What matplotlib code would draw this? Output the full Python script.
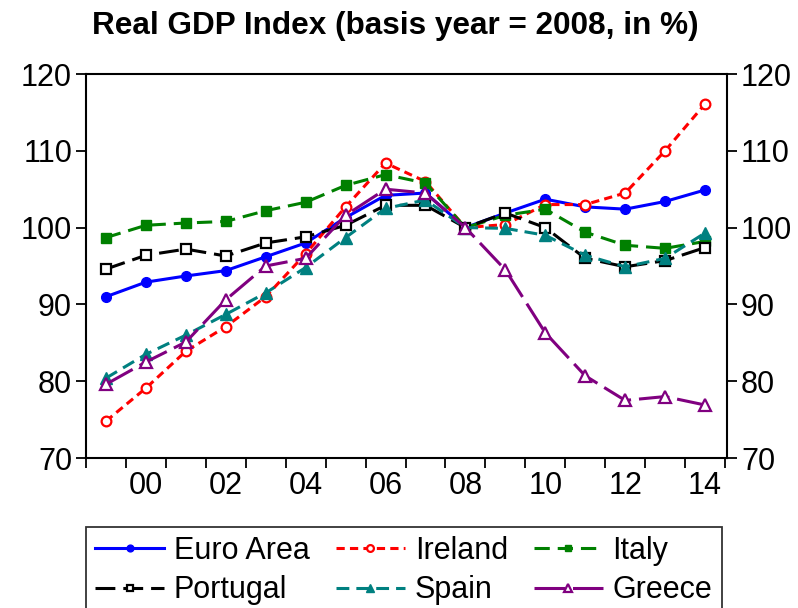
import numpy as np
import matplotlib
matplotlib.use('Agg')
import matplotlib.pyplot as plt
from matplotlib.ticker import FixedLocator, NullFormatter

plt.rcParams['font.family'] = ['Liberation Sans', 'DejaVu Sans']

years = list(range(1999, 2015))
euro_area = [91.0, 92.9, 93.7, 94.4, 96.2, 98.0, 101.3, 104.2, 104.5, 100.0, 101.9, 103.7, 102.7, 102.4, 103.4, 104.9]
ireland = [74.8, 79.1, 83.9, 87.1, 91.0, 96.6, 102.7, 108.4, 106.0, 100.0, 100.4, 103.0, 103.0, 104.5, 110.0, 116.1]
italy = [98.7, 100.3, 100.6, 100.8, 102.2, 103.3, 105.5, 106.9, 105.8, 100.0, 101.6, 102.4, 99.4, 97.7, 97.3, 98.2]
portugal = [94.6, 96.4, 97.2, 96.3, 98.0, 98.8, 100.3, 102.9, 102.9, 100.0, 101.9, 100.0, 96.0, 94.9, 95.7, 97.4]
spain = [80.4, 83.5, 86.0, 88.7, 91.5, 94.8, 98.7, 102.5, 103.6, 100.0, 99.9, 99.0, 96.4, 94.9, 96.0, 99.3]
greece = [79.6, 82.5, 85.1, 90.6, 95.0, 96.0, 101.6, 105.0, 104.5, 100.0, 94.5, 86.3, 80.7, 77.5, 78.0, 76.9]

year_labels = ['00', '02', '04', '06', '08', '10', '12', '14']
label_years = [2000, 2002, 2004, 2006, 2008, 2010, 2012, 2014]

fig = plt.figure(figsize=(7.98, 6.08), dpi=100)
ax = fig.add_axes([86/798, 1 - 458/608, (727 - 86)/798, (458 - 74)/608])

lw = 2.2
ms = 7
l_ea, = ax.plot(years, euro_area, color='blue', lw=lw, marker='o', ms=ms, label='Euro Area')
l_ie, = ax.plot(years, ireland, color='red', lw=lw, ls=(0, (2.7, 1.7)), marker='o', ms=ms,
                markerfacecolor='white', markeredgewidth=1.6, label='Ireland')
l_it, = ax.plot(years, italy, color='green', lw=lw, ls=(0, (5, 2.6)), marker='s', ms=ms, label='Italy')
l_pt, = ax.plot(years, portugal, color='black', lw=lw, ls=(0, (6.5, 2.6)), marker='s', ms=ms,
                markerfacecolor='white', markeredgewidth=1.6, label='Portugal')
l_es, = ax.plot(years, spain, color='teal', lw=lw, ls=(0, (4.2, 2.3)), marker='^', ms=ms + 1, label='Spain')
l_gr, = ax.plot(years, greece, color='purple', lw=lw, ls=(0, (10, 2.6)), marker='^', ms=ms + 1,
                markerfacecolor='white', markeredgewidth=1.6, label='Greece')

ax.set_xlim(1998.5, 2014.55)
ax.set_ylim(70, 120)
ax.set_yticks([70, 80, 90, 100, 110, 120])

# year ticks sit between points, labels centred on even years
ax.xaxis.set_major_locator(FixedLocator(label_years))
ax.set_xticklabels(year_labels)
ax.xaxis.set_minor_locator(FixedLocator([y + 0.5 for y in range(1998, 2015)]))
ax.xaxis.set_minor_formatter(NullFormatter())
ax.tick_params(axis='x', which='major', length=0, pad=9, labelsize=22)
ax.tick_params(axis='x', which='minor', direction='out', length=7, width=1.3)
ax.tick_params(axis='y', direction='out', length=7, width=1.3, labelsize=22,
               left=True, right=True, labelleft=True, labelright=True, pad=3)
for s in ax.spines.values():
    s.set_linewidth(1.5)

fig.suptitle('Real GDP Index (basis year = 2008, in %)', fontsize=22.7, fontweight='bold',
             x=0.495, y=0.982)

# row-wise order: matplotlib fills legend columns first
order = [l_ea, l_pt, l_ie, l_es, l_it, l_gr]
leg = fig.legend(handles=order, labels=[h.get_label() for h in order],
                 loc='upper left', bbox_to_anchor=(86/798, 1 - 527/608), ncol=3,
                 fontsize=22, frameon=True, fancybox=False, edgecolor='black',
                 handlelength=2.25, handletextpad=0.33, columnspacing=0.85,
                 borderpad=0.3, labelspacing=0.3, markerscale=0.7, borderaxespad=0)
leg.get_frame().set_linewidth(1.3)

fig.savefig('out.png', dpi=100)
